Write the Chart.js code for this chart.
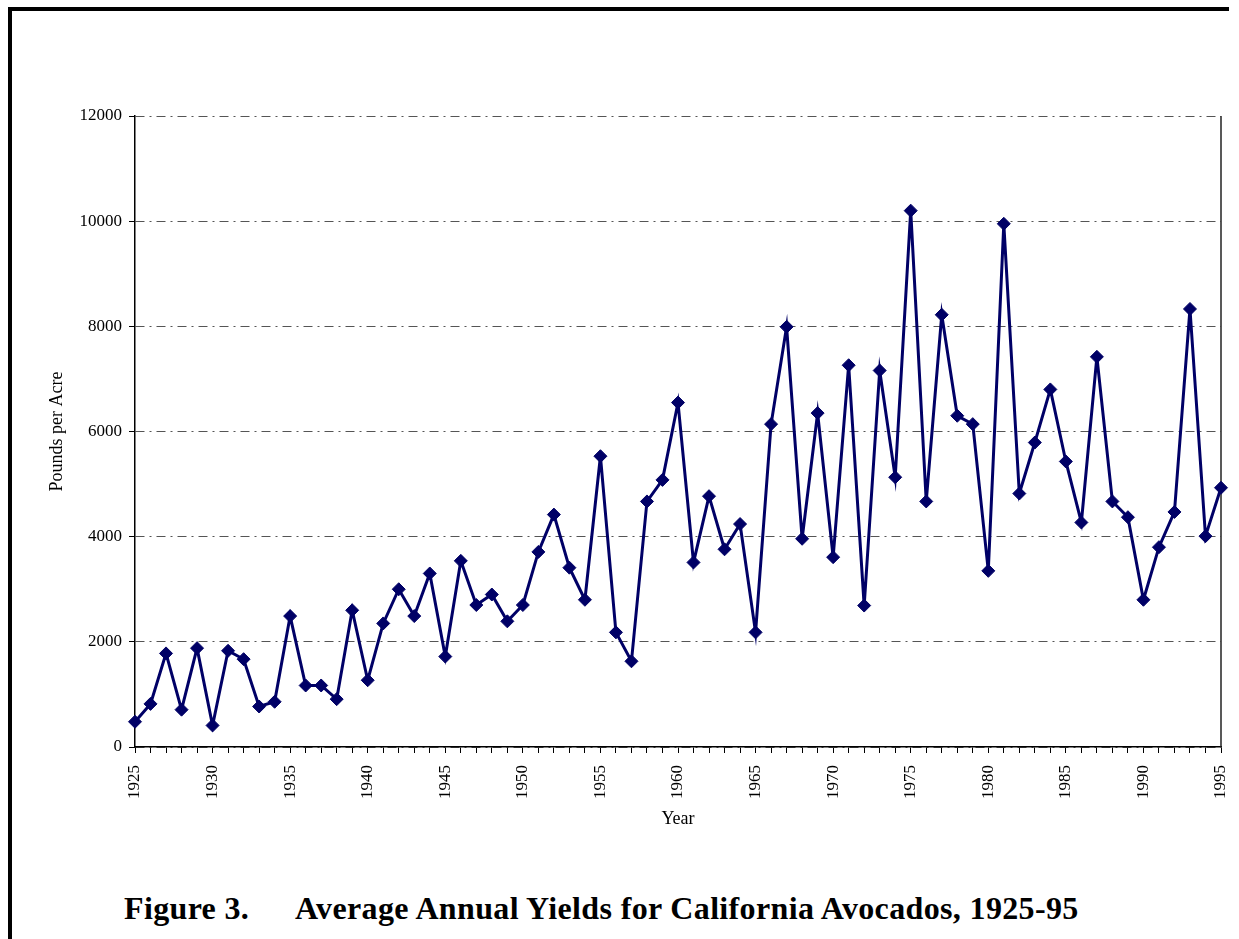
<!DOCTYPE html>
<html>
<head>
<meta charset="utf-8">
<script src="https://cdn.jsdelivr.net/npm/chart.js@4.4.1/dist/chart.umd.min.js"></script>
<style>
  html, body { margin: 0; padding: 0; background: #fff; }
  body { width: 1239px; height: 939px; position: relative; overflow: hidden; }
  #frame { position: absolute; left: 8px; top: 7px; width: 1221px; height: 940px;
           border-top: 4px solid #000; border-left: 4px solid #000; box-sizing: border-box; }
  #wrap { position: absolute; left: 0; top: 0; width: 1239px; height: 850px; }
  .cap { position: absolute; top: 890px; font-family: "Liberation Serif", serif;
         font-weight: bold; font-size: 32px; letter-spacing: 0.35px; color: #000; white-space: nowrap; }
</style>
</head>
<body>
<div id="frame"></div>
<div id="wrap"><canvas id="yieldChart" width="1239" height="850"></canvas></div>
<div class="cap" style="left:124px">Figure 3.</div>
<div class="cap" style="left:295px">Average Annual Yields for California Avocados, 1925-95</div>
<script>
// years 1925-95 and pounds per acre
const years = [];
for (let y = 1925; y <= 1995; y++) years.push(y);

const yields = [
    480, 820, 1780, 710, 1880, 410, 1830, 1670, 770, 860,          // 1925-34
    2490, 1170, 1170, 910, 2600, 1270, 2350, 3000, 2490, 3300,      // 1935-44
    1720, 3540, 2700, 2900, 2390, 2700, 3710, 4420, 3410, 2800,     // 1945-54
    5530, 2180, 1630, 4670, 5080, 6550, 3510, 4770, 3760, 4240,     // 1955-64
    2180, 6140, 7990, 3960, 6350, 3610, 7260, 2690, 7160, 5130,     // 1965-74
    10200, 4670, 8220, 6300, 6140, 3350, 9950, 4820, 5790, 6800,    // 1975-84
    5430, 4270, 7420, 4670, 4370, 2800, 3800, 4470, 8330, 4010,     // 1985-94
    4930                                                            // 1995
];

const yTicks = [0, 2000, 4000, 6000, 8000, 10000, 12000];

Chart.defaults.color = '#000';
Chart.defaults.font.family = '"Liberation Serif", serif';

const rightEdge = {
    id: 'rightEdge',
    beforeDatasetsDraw(chart) {
        const a = chart.chartArea;
        const ctx = chart.ctx;
        ctx.save();
        ctx.strokeStyle = '#222';
        ctx.lineWidth = 1.5;
        ctx.beginPath();
        ctx.moveTo(a.right, a.top);
        ctx.lineTo(a.right, a.bottom);
        ctx.stroke();
        ctx.restore();
    }
};

const ctx = document.getElementById('yieldChart').getContext('2d');
new Chart(ctx, {
    type: 'line',
    data: {
        labels: years,
        datasets: [{
            label: 'Pounds per Acre',
            data: yields,
            borderColor: '#000066',
            backgroundColor: '#000066',
            borderWidth: 3,
            tension: 0,
            pointStyle: 'rectRot',
            pointRadius: 6.5,
            pointBorderWidth: 1,
            clip: false
        }]
    },
    options: {
        responsive: false,
        animation: false,
        devicePixelRatio: 1,
        layout: { padding: { top: 116, right: 18, left: 38, bottom: 0 } },
        plugins: { legend: { display: false }, tooltip: { enabled: false } },
        scales: {
            x: {
                type: 'category',
                offset: false,
                afterFit: (s) => { s.height = 103; s.paddingLeft = 0; s.paddingRight = 0; },
                grid: { drawOnChartArea: false, tickLength: 6, tickColor: '#000', tickWidth: 1 },
                border: { color: '#000', width: 1.5 },
                ticks: {
                    autoSkip: false,
                    minRotation: 90,
                    maxRotation: 90,
                    padding: 12,
                    font: { size: 17 },
                    callback: (v, i) => (years[i] % 5 === 0 ? String(years[i]) : '')
                },
                title: { display: true, text: 'Year', font: { size: 18 }, padding: { top: 0, bottom: 20 } }
            },
            y: {
                min: 0,
                max: 12000,
                afterFit: (s) => { s.width = 97; },
                afterBuildTicks: (s) => { s.ticks = yTicks.map(v => ({ value: v })); },
                grid: { color: '#555', lineWidth: 1, tickLength: 6, tickColor: '#000', tickBorderDash: [] },
                border: { color: '#000', width: 1.5, dash: [9, 5, 2, 5] },
                ticks: { padding: 7, font: { size: 17 }, callback: (v) => String(v) },
                title: { display: true, text: 'Pounds per Acre', font: { size: 18 }, padding: { top: 8, bottom: 0 } }
            }
        }
    },
    plugins: [rightEdge]
});
</script>
</body>
</html>
